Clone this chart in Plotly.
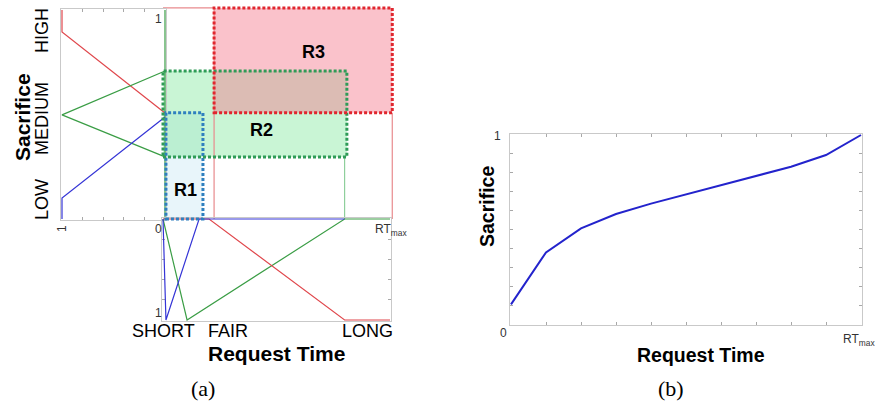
import plotly.graph_objects as go

W, H = 879, 412

# ---------------- data ----------------
# Sacrifice membership functions (membership mu, sacrifice level s)
sac_high_mu = [1, 1, 0]
sac_high_s = [1.0, 0.895, 0.507]
sac_med_mu = [0, 1, 0]
sac_med_s = [0.708, 0.498, 0.297]
sac_low_mu = [0, 1, 1]
sac_low_s = [0.488, 0.10, 0.0]

# Request-time membership functions (request time rt, membership mu)
rt_short_x = [0, 0.013, 0.159, 0.80]
rt_short_mu = [0, 1, 0, 0]
rt_fair_x = [0, 0.106, 0.80, 1.0]
rt_fair_mu = [0, 1, 0, 0]
rt_long_x = [0, 0.203, 0.80, 1.0]
rt_long_mu = [0, 0, 1, 1]

# Rule regions in the (request time, sacrifice) plane
region_names = ["R1", "R2", "R3"]
region_rt_lo = [0.013, 0.0, 0.225]
region_rt_hi = [0.176, 0.81, 1.01]
region_s_lo = [0.0, 0.297, 0.508]
region_s_hi = [0.508, 0.708, 1.01]
region_label_rt = [0.097, 0.436, 0.665]
region_label_s = [0.139, 0.426, 0.80]

# Guide lines in the plane
guide_red_top_rt = [0.0, 0.225]
guide_red_top_s = [1.01, 1.01]
guide_red_v1_rt = [0.225, 0.225]
guide_red_v1_s = [0.0, 1.01]
guide_red_v2_rt = [1.01, 1.01]
guide_red_v2_s = [0.0, 0.507]
guide_green_v_rt = [0.80, 0.80]
guide_green_v_s = [0.0, 0.297]
edge_green_mu = [0, 0]
edge_green_s = [0.0, 1.0]

# Panel (b): resulting sacrifice vs request time
b_rt = [0, 0.1, 0.2, 0.3, 0.4, 0.5, 0.6, 0.7, 0.8, 0.9, 1.0]
b_sac = [0.104, 0.379, 0.506, 0.582, 0.637, 0.686, 0.733, 0.780, 0.832, 0.894, 1.0]

# ---------------- helpers ----------------
def xaxis_cfg(v0, p0, v1, p1, pad):
    s = (v1 - v0) / (p1 - p0)
    return dict(range=[v0 - pad * s, v1 + pad * s], domain=[(p0 - pad) / W, (p1 + pad) / W])

def yaxis_cfg(vb, pb, vt, pt, pad):
    s = (vt - vb) / (pb - pt)
    return dict(range=[vb - pad * s, vt + pad * s], domain=[1 - (pb + pad) / H, 1 - (pt - pad) / H])

RED = "#e0474c"
GREEN = "#3a9d45"
BLUE = "#3434d6"
FRAME = "#c9c9c9"
TICK = "#a8a8a8"

frame_common = dict(showline=True, linecolor=FRAME, linewidth=1, showgrid=False,
                    zeroline=False, showticklabels=False, layer="below traces")

fig = go.Figure()

# left (sacrifice) membership panel on x2/y2
for mu, s, c in [(sac_high_mu, sac_high_s, RED), (sac_med_mu, sac_med_s, GREEN),
                 (sac_low_mu, sac_low_s, BLUE), (edge_green_mu, edge_green_s, GREEN)]:
    fig.add_trace(go.Scatter(x=mu, y=s, mode="lines", line=dict(color=c, width=1.2),
                             xaxis="x2", yaxis="y2", hoverinfo="skip", showlegend=False))

# bottom (request-time) membership panel on x3/y3
for x, mu, c in [(rt_fair_x, rt_fair_mu, GREEN), (rt_long_x, rt_long_mu, RED),
                 (rt_short_x, rt_short_mu, BLUE)]:
    fig.add_trace(go.Scatter(x=x, y=mu, mode="lines", line=dict(color=c, width=1.2),
                             xaxis="x3", yaxis="y3", hoverinfo="skip", showlegend=False))

# guide lines in the plane (x/y)
for x, y, c in [(guide_red_top_rt, guide_red_top_s, "#e88a8d"), (guide_red_v1_rt, guide_red_v1_s, "#e88a8d"),
                (guide_red_v2_rt, guide_red_v2_s, "#e88a8d"), (guide_green_v_rt, guide_green_v_s, "#8fcf9c")]:
    fig.add_trace(go.Scatter(x=x, y=y, mode="lines", line=dict(color=c, width=1.2),
                             xaxis="x", yaxis="y", hoverinfo="skip", showlegend=False))

# panel (b)
fig.add_trace(go.Scatter(x=b_rt, y=b_sac, mode="lines", line=dict(color="#2323cc", width=2),
                         xaxis="x4", yaxis="y4", hoverinfo="skip", showlegend=False))

# region rectangles: fills first, then dotted borders
fills = ["rgba(232,245,250,1)", "rgba(120,230,150,0.40)", "rgba(245,120,140,0.45)"]
borders = ["#2e7fbf", "#2f9b57", "#e0262e"]
shapes = []
for i in range(len(region_names)):
    shapes.append(dict(type="rect", xref="x", yref="y", x0=region_rt_lo[i], x1=region_rt_hi[i],
                       y0=region_s_lo[i], y1=region_s_hi[i], fillcolor=fills[i],
                       line=dict(width=0), layer="below"))
for i in range(len(region_names)):
    shapes.append(dict(type="rect", xref="x", yref="y", x0=region_rt_lo[i], x1=region_rt_hi[i],
                       y0=region_s_lo[i], y1=region_s_hi[i], fillcolor="rgba(0,0,0,0)",
                       line=dict(width=3, color=borders[i], dash="3px,2px"), layer="above"))

annotations = []
for i, name in enumerate(region_names):
    annotations.append(dict(x=region_label_rt[i], y=region_label_s[i], xref="x", yref="y",
                            text="<b>%s</b>" % name, showarrow=False,
                            font=dict(family="Liberation Sans, Arial", size=18, color="black")))

def ann(px, py, text, size, angle=0, family="Liberation Sans, Arial", color="black", xanchor="center"):
    annotations.append(dict(x=px / W, y=1 - py / H, xref="paper", yref="paper", text=text,
                            showarrow=False, textangle=angle, xanchor=xanchor, yanchor="middle",
                            font=dict(family=family, size=size, color=color)))

ann(22, 117, "<b>Sacrifice</b>", 21, -90)
ann(42, 31, "HIGH", 18, -90)
ann(42, 119, "MEDIUM", 18, -90)
ann(42, 200, "LOW", 18, -90)
ann(62, 229, "1", 12, -90, color="#333")
ann(158, 229, "0", 12, color="#333")
ann(158, 19, "1", 12, color="#333")
ann(158, 313, "1", 12, color="#333")
ann(391, 230, "RT<sub>max</sub>", 12, color="#333")
ann(163, 331, "SHORT", 18)
ann(228, 331, "FAIR", 18)
ann(367, 331, "LONG", 18)
ann(276, 353, "<b>Request Time</b>", 21)

ann(497, 136, "1", 12, color="#333")
ann(503, 333, "0", 12, color="#333")
ann(859, 340, "RT<sub>max</sub>", 12, color="#333")
ann(487, 206, "<b>Sacrifice</b>", 19.5, -90)
ann(701, 355, "<b>Request Time</b>", 19.5)

ann(203, 388, "(a)", 22, family="Liberation Serif, DejaVu Serif")
ann(671, 388, "(b)", 22, family="Liberation Serif, DejaVu Serif")

hidden = dict(visible=False, showgrid=False, zeroline=False)

fig.update_layout(
    width=W, height=H, margin=dict(l=0, r=0, t=0, b=0),
    paper_bgcolor="white", plot_bgcolor="rgba(0,0,0,0)", showlegend=False,
    xaxis=dict(**xaxis_cfg(0, 163, 1, 390, 5), anchor="y", **hidden),
    yaxis=dict(**yaxis_cfg(0, 219, 1, 10, 5), anchor="x", **hidden),
    xaxis2=dict(**xaxis_cfg(1, 62, 0, 165, 1), anchor="y2", mirror="allticks", ticks="inside",
                ticklen=3, tickcolor=TICK, tick0=0, dtick=0.2, **frame_common),
    yaxis2=dict(**yaxis_cfg(0, 219, 1, 10, 1), anchor="x2", mirror=True, ticks="", **frame_common),
    xaxis3=dict(**xaxis_cfg(0, 163, 1, 390, 1), anchor="y3", mirror=True, ticks="", **frame_common),
    yaxis3=dict(**yaxis_cfg(1, 320, 0, 219, 1), anchor="x3", mirror="allticks", ticks="inside",
                ticklen=3, tickcolor=TICK, tick0=0, dtick=0.2, **frame_common),
    xaxis4=dict(**xaxis_cfg(0, 511, 1, 861, 1), anchor="y4", mirror="allticks", ticks="inside",
                ticklen=3, tickcolor=TICK, tick0=0, dtick=0.1, **frame_common),
    yaxis4=dict(**yaxis_cfg(0, 324, 1, 135, 1), anchor="x4", mirror="allticks", ticks="inside",
                ticklen=3, tickcolor=TICK, tick0=0, dtick=0.1, **frame_common),
    shapes=shapes, annotations=annotations,
)

fig.write_html("out.html", config={"displayModeBar": False},
               post_script="document.body.style.margin='0px';document.body.style.overflow='hidden';")
